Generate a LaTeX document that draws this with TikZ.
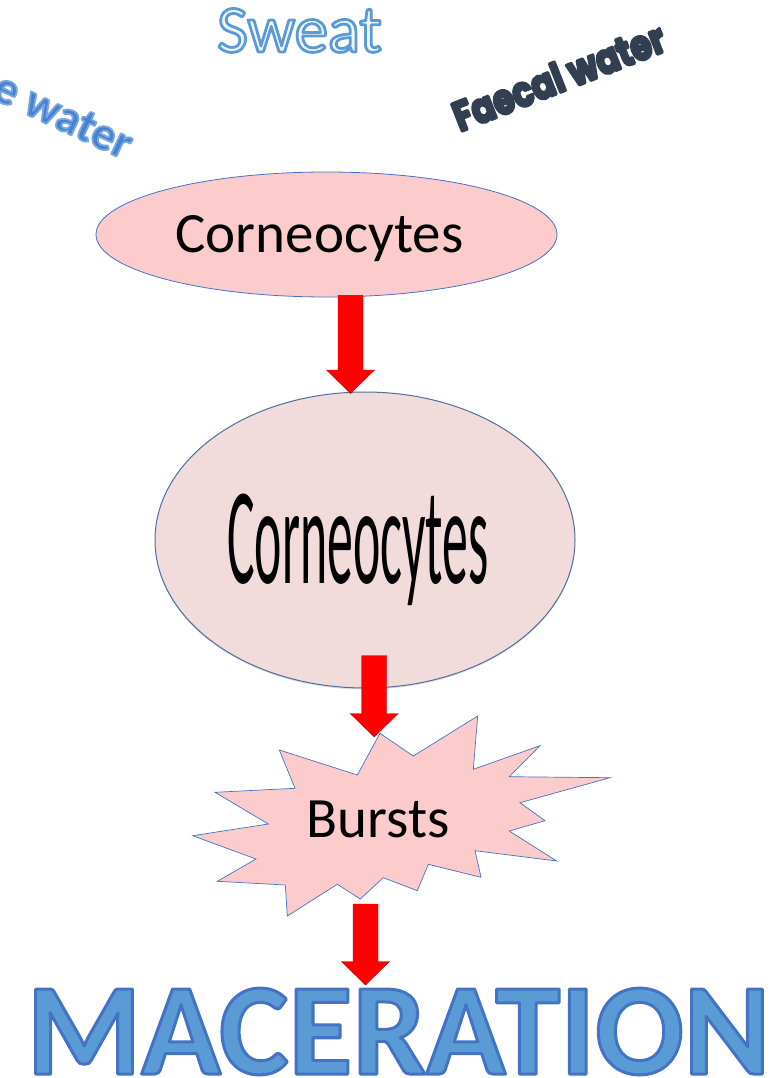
\documentclass[tikz,border=0pt]{standalone}
\usepackage{fontspec}
\setmainfont{Carlito}
\newfontfamily\roundfont{Poppins}
\usetikzlibrary{shapes.geometric,calc,shadows}
\definecolor{pinkA}{RGB}{252,204,204}
\definecolor{pinkB}{RGB}{242,220,219}
\definecolor{edgeblue}{RGB}{68,114,196}
\definecolor{edgeB}{RGB}{80,110,160}
\definecolor{arrowred}{RGB}{255,0,0}
\definecolor{arrowedge}{RGB}{190,0,0}
\definecolor{sweatfill}{RGB}{240,246,252}
\definecolor{macfill}{RGB}{91,155,213}
\definecolor{urinefill}{RGB}{70,130,210}
\definecolor{faecal}{RGB}{50,63,80}
% #1 line width (bp), #2 stroke colour as r g b in 0..1, #3 fill colour name, #4 text
\newcommand\outlinedtext[4]{{\color{#3}\special{pdf:literal direct #2 RG #1 w 1 j 2 Tr}#4\special{pdf:literal direct 0 Tr}}}
\newcommand\redarrow[2]{%
  \draw[redarrowstyle] ($(#1)+(-12.5,0)$) -- ($(#2)+(-12.5,-23.5)$) -- ($(#2)+(-24,-23.5)$)
    -- (#2) -- ($(#2)+(24,-23.5)$) -- ($(#2)+(12.5,-23.5)$) -- ($(#1)+(12.5,0)$) -- cycle;}
\begin{document}
\begin{tikzpicture}[x=1pt,y=-1pt,
  redarrowstyle/.style={fill=arrowred, draw=arrowedge, line width=0.4pt, line join=miter},
  ellA/.style={ellipse, fill=pinkA, draw=edgeblue, line width=0.8pt, inner sep=0pt},
  ellB/.style={ellipse, fill=pinkB, draw=edgeB, line width=1pt, inner sep=0pt,
    drop shadow={shadow xshift=0pt, shadow yshift=-1.5pt, opacity=0.25, fill=gray}},
  burststyle/.style={fill=pinkA, draw=edgeblue, line width=0.7pt, line join=miter},
  plain/.style={inner sep=0pt, outer sep=0pt}]
\useasboundingbox (0,0) rectangle (779,1078);

% floating labels
\node[plain, anchor=base, font=\fontsize{67}{70}\selectfont] (sweat) at (299.5,52)
  {\outlinedtext{2.8}{0.357 0.608 0.835}{sweatfill}{Sweat}};
\node[plain, anchor=base east, rotate=-25, font=\bfseries\fontsize{47}{49}\selectfont] (urine) at (124,160)
  {\outlinedtext{1.8}{0.47 0.66 0.88}{urinefill}{Urine water}};
\node[plain, anchor=base west, rotate=21.5, font=\roundfont\bfseries\fontsize{36}{38}\selectfont] (faecal) at (460,132)
  {\scalebox{0.94}[1.15]{\outlinedtext{2.6}{0.196 0.247 0.314}{faecal}{Faecal water}}};

% first ellipse
\node[ellA, minimum width=461pt, minimum height=125pt, text height=36.7pt, text depth=0pt,
  font=\fontsize{57}{60}\selectfont] (c1) at (326.5,234.5) {\hspace*{-14pt}Corneocytes};

% second ellipse
\node[ellB, minimum width=420pt, minimum height=296pt, text height=87pt, text depth=0pt] (c2) at (365,540)
  {\hspace*{-14pt}\scalebox{0.375}[1]{\fontsize{138}{140}\selectfont Corneocytes}};

% burst
\draw[burststyle] (380,733.3) -- (413.3,756) -- (477.7,716) -- (473.3,769.3) -- (540,745.7)
  -- (509.3,776.7) -- (610,777.7) -- (520,802.7) -- (545,820.7) -- (509.3,831) -- (556.7,861)
  -- (475,850.7) -- (481,877.3) -- (428.3,864.3) -- (417.3,890.7) -- (383.3,877.7) -- (360.3,899)
  -- (337.3,884.3) -- (287.3,916) -- (285.3,885) -- (217.3,881.3) -- (256,859) -- (192.7,835.7)
  -- (268.3,824) -- (215,792.3) -- (295,788.3) -- (279.3,750) -- (357.3,775) -- cycle;
\node[plain, text height=36pt, text depth=0pt, font=\fontsize{57}{60}\selectfont] (burst) at (378.3,819) {Bursts};

% result
\node[plain, anchor=base, font=\bfseries\fontsize{131}{132}\selectfont] (mac) at (398.4,1074)
  {\outlinedtext{3}{0.267 0.447 0.769}{macfill}{MACERATION}};

% connectors
\coordinate (a1s) at ($(c1.south)+(24,-2)$);
\coordinate (a1e) at ($(c2.north)+(-14.5,2)$);
\coordinate (a2s) at ($(c2.south)+(9.2,-33)$);
\coordinate (a2e) at ($(burst.center)+(-4.1,-82)$);
\coordinate (a3s) at ($(burst.center)+(-12.8,85)$);
\coordinate (a3e) at ($(mac.base)+(-32.9,-89)$);
\redarrow{a1s}{a1e}
\redarrow{a2s}{a2e}
\redarrow{a3s}{a3e}
\end{tikzpicture}
\end{document}
